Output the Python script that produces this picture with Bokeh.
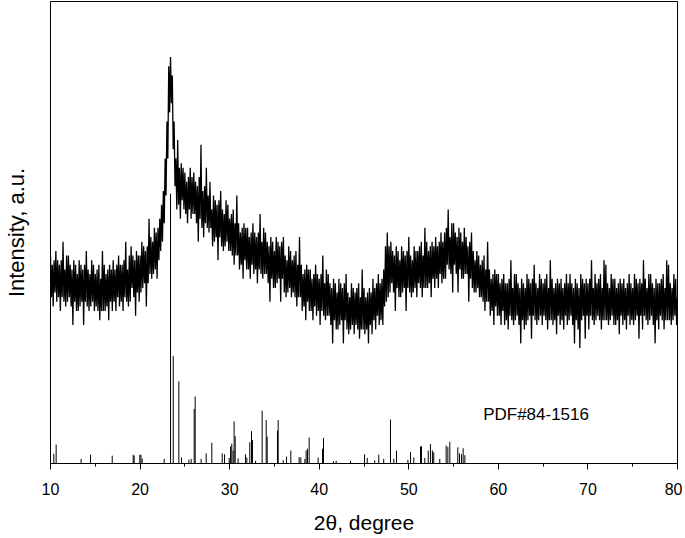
from bokeh.plotting import figure
from bokeh.models import Range1d, SingleIntervalTicker, FixedTicker
from bokeh.core.properties import value
from bokeh.embed import file_html
from bokeh.resources import INLINE

# ---- measured XRD pattern (2theta from 10.0 to 80.0 in 0.1 degree steps) ----
two_theta_start = 10.0
two_theta_step = 0.1
intensity = [
    45, 36, 43, 34, 44, 37, 46, 35, 44, 36,   # 10
    43, 33, 44, 36, 48, 35, 42, 34, 45, 35,   # 11
    45, 36, 43, 34, 42, 30, 44, 35, 43, 33,   # 12
    41, 33, 44, 34, 43, 35, 42, 30, 43, 35,   # 13
    46, 34, 42, 33, 41, 34, 44, 35, 43, 33,   # 14
    41, 34, 42, 33, 43, 31, 40, 33, 46, 33,   # 15
    43, 33, 41, 34, 42, 31, 43, 35, 42, 33,   # 16
    44, 35, 42, 33, 43, 36, 45, 34, 43, 35,   # 17
    43, 33, 44, 36, 48, 35, 42, 34, 45, 35,   # 18
    47, 38, 45, 36, 44, 32, 46, 37, 45, 35,   # 19
    45, 37, 48, 38, 47, 39, 46, 34, 47, 39,   # 20
    53, 41, 49, 40, 48, 41, 51, 42, 50, 40,   # 21
    51, 44, 53, 46, 56, 48, 59, 52, 66, 58,   # 22
    74, 66, 86, 76, 88, 78, 84, 68, 74, 60,   # 23
    66, 55, 70, 56, 64, 53, 65, 57, 64, 55,   # 24
    63, 54, 61, 52, 62, 55, 64, 53, 62, 54,   # 25
    63, 54, 61, 52, 60, 48, 62, 53, 69, 51,   # 26
    59, 49, 60, 52, 64, 51, 58, 50, 61, 51,   # 27
    55, 47, 58, 48, 57, 49, 56, 44, 57, 49,   # 28
    59, 47, 55, 46, 54, 47, 57, 48, 56, 46,   # 29
    53, 46, 54, 45, 55, 43, 52, 45, 58, 45,   # 30
    52, 42, 50, 43, 51, 40, 52, 44, 51, 42,   # 31
    51, 42, 49, 40, 50, 43, 52, 41, 50, 42,   # 32
    49, 39, 50, 42, 54, 41, 48, 40, 51, 41,   # 33
    50, 41, 48, 39, 47, 35, 49, 40, 48, 38,   # 34
    46, 38, 49, 39, 48, 40, 47, 35, 48, 40,   # 35
    49, 37, 45, 36, 44, 37, 47, 38, 46, 36,   # 36
    44, 37, 45, 36, 46, 34, 43, 36, 49, 36,   # 37
    43, 33, 41, 34, 42, 31, 43, 35, 42, 33,   # 38
    42, 33, 40, 31, 41, 34, 43, 32, 41, 33,   # 39
    40, 30, 41, 33, 45, 32, 39, 31, 42, 32,   # 40
    41, 32, 39, 30, 38, 26, 40, 31, 39, 29,   # 41
    37, 29, 40, 30, 39, 31, 38, 26, 39, 31,   # 42
    41, 29, 37, 28, 36, 29, 39, 30, 38, 28,   # 43
    37, 30, 38, 29, 39, 27, 36, 29, 42, 29,   # 44
    38, 28, 36, 29, 37, 26, 38, 30, 37, 28,   # 45
    40, 31, 38, 29, 39, 32, 41, 30, 39, 31,   # 46
    40, 30, 42, 34, 47, 35, 50, 36, 47, 37,   # 47
    48, 39, 46, 37, 45, 33, 47, 38, 46, 36,   # 48
    44, 36, 47, 37, 46, 38, 45, 33, 46, 38,   # 49
    49, 37, 45, 36, 44, 37, 47, 38, 46, 36,   # 50
    46, 39, 47, 38, 48, 36, 45, 38, 51, 38,   # 51
    48, 38, 46, 39, 47, 36, 48, 40, 47, 38,   # 52
    49, 40, 47, 38, 48, 41, 50, 39, 48, 40,   # 53
    50, 40, 51, 43, 55, 42, 49, 41, 52, 37,   # 54
    52, 43, 50, 41, 49, 37, 51, 42, 50, 40,   # 55
    48, 40, 51, 41, 49, 41, 47, 35, 48, 40,   # 56
    50, 38, 46, 37, 44, 37, 46, 38, 45, 36,   # 57
    43, 36, 44, 35, 45, 33, 42, 35, 48, 35,   # 58
    42, 32, 40, 33, 41, 30, 42, 34, 41, 32,   # 59
    41, 32, 39, 30, 40, 33, 41, 30, 39, 31,   # 60
    39, 29, 40, 32, 44, 31, 38, 30, 41, 31,   # 61
    41, 32, 39, 30, 38, 26, 40, 31, 39, 29,   # 62
    38, 30, 41, 31, 40, 32, 39, 27, 40, 32,   # 63
    43, 31, 39, 30, 38, 31, 41, 32, 40, 30,   # 64
    39, 32, 40, 31, 41, 29, 38, 31, 44, 31,   # 65
    40, 30, 38, 31, 39, 28, 40, 32, 39, 30,   # 66
    40, 31, 38, 29, 39, 32, 41, 30, 39, 31,   # 67
    41, 32, 39, 30, 38, 26, 40, 31, 39, 29,   # 68
    38, 25, 41, 31, 40, 32, 39, 27, 40, 32,   # 69
    39, 29, 40, 32, 44, 31, 38, 30, 41, 31,   # 70
    39, 32, 40, 31, 41, 29, 38, 31, 44, 31,   # 71
    43, 31, 39, 30, 38, 31, 41, 32, 40, 30,   # 72
    40, 30, 38, 31, 39, 28, 40, 32, 39, 30,   # 73
    40, 31, 38, 29, 39, 32, 41, 30, 39, 31,   # 74
    38, 30, 41, 31, 40, 32, 39, 27, 40, 32,   # 75
    39, 29, 44, 32, 40, 31, 38, 30, 41, 31,   # 76
    41, 32, 39, 30, 38, 26, 40, 31, 39, 29,   # 77
    39, 32, 40, 31, 41, 29, 38, 31, 44, 31,   # 78
    43, 31, 39, 30, 38, 31, 41, 32, 40, 30,   # 79
    36,                                       # 80
]

# ---- reference stick pattern PDF#84-1516 ----
pdf_two_theta = [
    10.37, 10.63, 13.42, 14.47, 16.89, 19.23, 19.34, 19.97, 20.10, 20.23,
    22.69, 23.40, 23.70, 24.33, 24.63, 25.45, 25.70, 26.04, 26.15, 26.82,
    27.38, 28.01, 29.17, 29.43, 29.95, 30.10, 30.24, 30.39, 30.50, 30.62,
    30.95, 31.77, 31.92, 32.25, 32.44, 32.55, 32.90, 33.63, 34.08, 34.19,
    35.34, 35.42, 35.98, 36.35, 36.83, 37.76, 37.95, 38.40, 38.54, 38.69,
    38.88, 39.88, 40.37, 40.48, 41.59, 41.89, 43.50, 45.06, 45.36, 46.20,
    46.65, 47.20, 47.96, 48.33, 48.63, 49.90, 50.19, 50.56, 51.31, 51.42,
    51.79, 52.17, 52.42, 52.64, 52.79, 53.46, 54.17, 54.36, 54.58, 55.47,
    55.66, 55.88, 56.07, 56.26,
]
pdf_intensity = [
    2.1, 4.1, 1.0, 1.9, 1.7, 1.9, 1.7, 1.9, 1.9, 1.1,
    1.0, 58.4, 23.3, 17.8, 1.3, 0.8, 1.0, 11.8, 14.5, 1.0,
    2.2, 4.5, 2.2, 2.0, 1.2, 3.7, 4.3, 2.8, 9.1, 5.9,
    1.1, 2.0, 1.3, 4.6, 7.0, 5.1, 0.6, 11.4, 9.4, 5.8,
    7.1, 9.4, 0.7, 1.5, 2.8, 1.4, 1.3, 1.0, 2.8, 3.2,
    5.6, 1.3, 3.2, 5.5, 0.5, 0.6, 0.6, 2.0, 1.2, 0.7,
    1.9, 1.0, 9.5, 1.0, 2.8, 0.8, 2.5, 1.3, 3.7, 3.7,
    1.2, 2.8, 4.2, 2.8, 2.4, 1.0, 3.9, 3.6, 4.7, 3.5,
    2.2, 2.0, 3.3, 1.8,
]
pdf_label = "PDF#84-1516"
pdf_label_pos = (58.3, 10.6)

x_label = "2θ, degree"
y_label = "Intensity, a.u."

two_theta = [round(two_theta_start + i * two_theta_step, 2) for i in range(len(intensity))]

FONT = "Liberation Sans"

p = figure(width=682, height=538, output_backend="svg", toolbar_location=None,
           x_range=Range1d(10, 80), y_range=Range1d(0, 100),
           min_border_left=50, min_border_right=5, min_border_top=1, min_border_bottom=75,
           x_axis_label=x_label, y_axis_label=y_label)
p.grid.visible = False
p.background_fill_color = "white"
p.border_fill_color = "white"
p.outline_line_color = "black"
p.outline_line_alpha = 1.0
p.outline_line_width = 1

p.line(two_theta, intensity, line_color="black", line_width=1.3)
p.segment(x0=pdf_two_theta, y0=0, x1=pdf_two_theta, y1=pdf_intensity,
          line_color="black", line_width=1)
p.text(x=[pdf_label_pos[0]], y=[pdf_label_pos[1]], text=[pdf_label],
       text_font=value(FONT), text_font_size="17px", text_color="black",
       text_baseline="middle", text_align="left")

xa = p.xaxis[0]
xa.ticker = SingleIntervalTicker(interval=10, num_minor_ticks=2)
xa.axis_line_color = "black"
xa.major_tick_line_color = "black"
xa.minor_tick_line_color = "black"
xa.major_tick_in = 0
xa.major_tick_out = 6
xa.minor_tick_in = 0
xa.minor_tick_out = 3
xa.major_label_standoff = 13
xa.major_label_text_font = FONT
xa.major_label_text_font_size = "16px"
xa.major_label_text_color = "black"
xa.axis_label_standoff = 13
xa.axis_label_text_font = FONT
xa.axis_label_text_font_size = "21px"
xa.axis_label_text_font_style = "normal"
xa.axis_label_text_color = "black"

ya = p.yaxis[0]
ya.ticker = FixedTicker(ticks=[])
ya.axis_line_color = "black"
ya.major_tick_in = 0
ya.major_tick_out = 0
ya.minor_tick_in = 0
ya.minor_tick_out = 0
ya.major_label_standoff = 0
ya.axis_label_standoff = 22
ya.axis_label_text_font = FONT
ya.axis_label_text_font_size = "22px"
ya.axis_label_text_font_style = "normal"
ya.axis_label_text_color = "black"

open("out.html", "w").write(file_html(p, INLINE))
